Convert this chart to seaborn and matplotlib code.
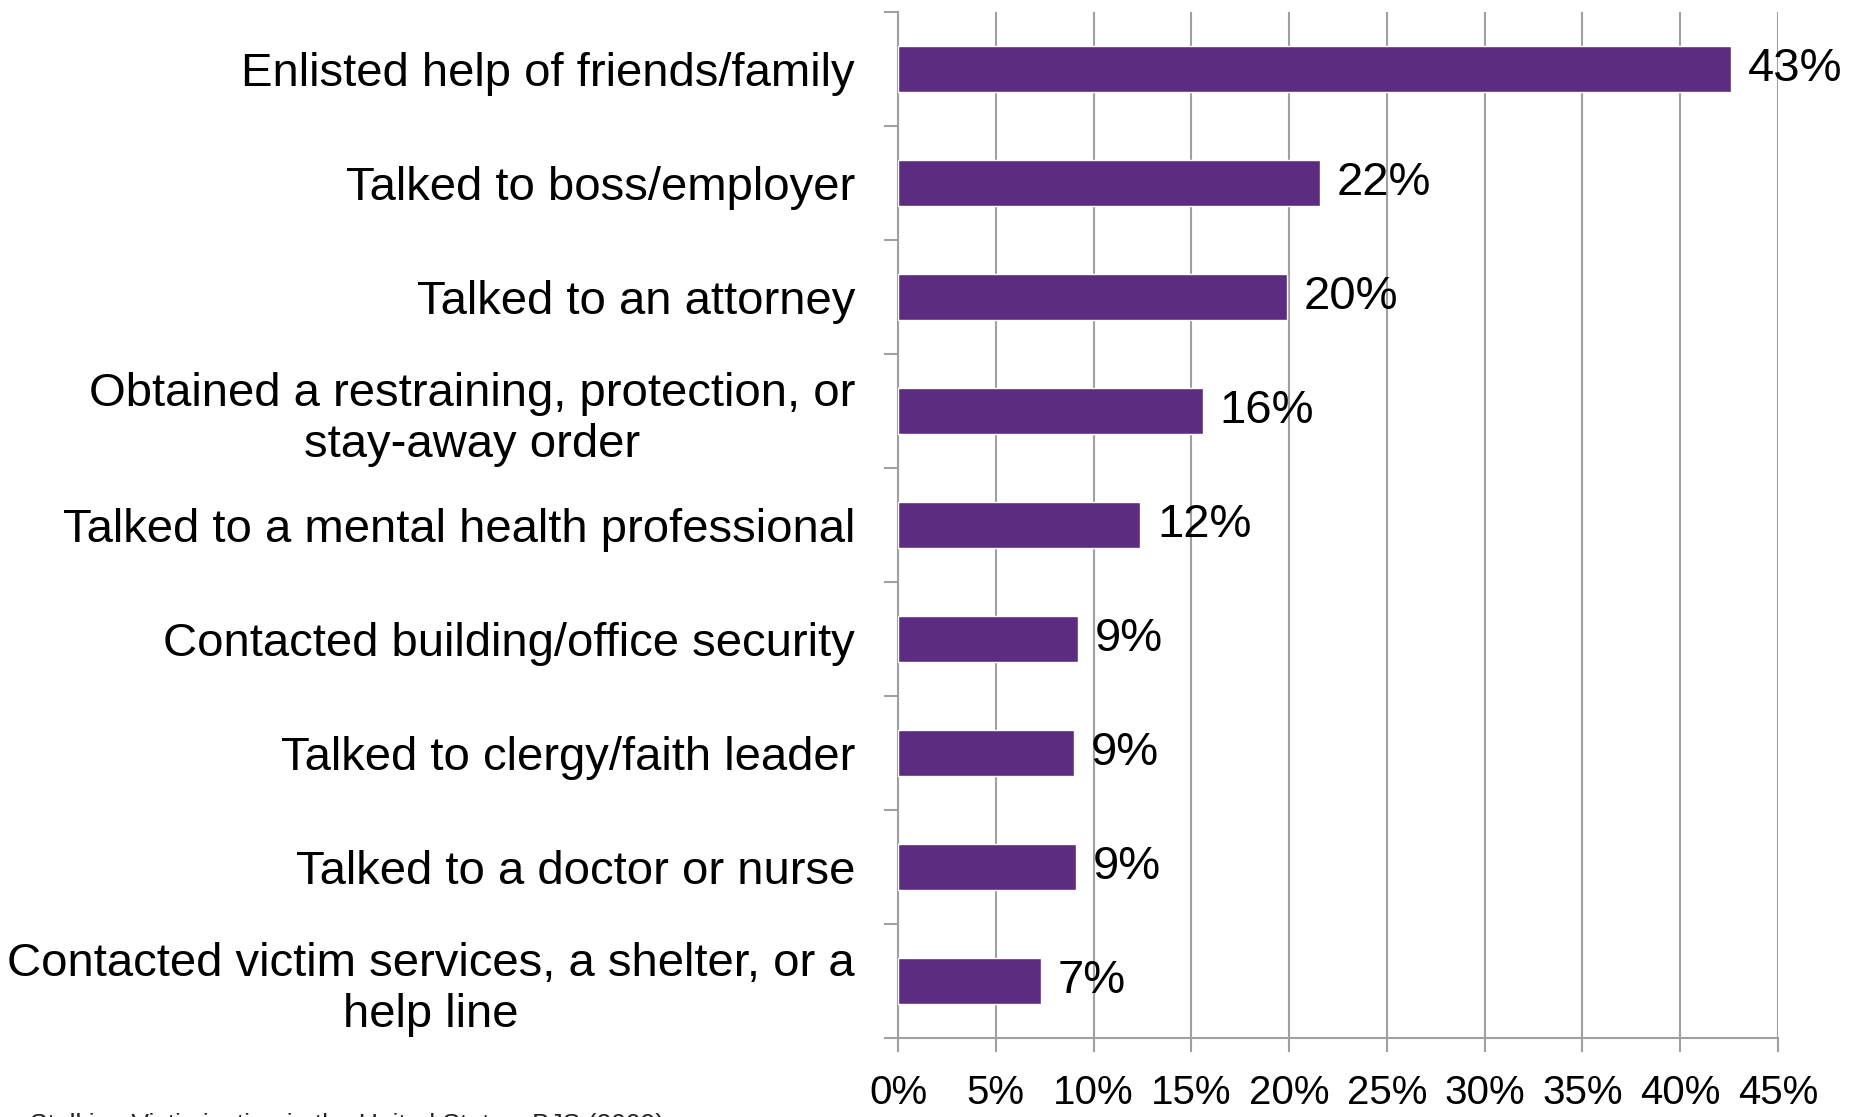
import matplotlib
matplotlib.use("Agg")
import matplotlib.pyplot as plt
import seaborn as sns
import pandas as pd
import numpy as np
from matplotlib.ticker import FixedLocator

categories = [
    "Enlisted help of friends/family",
    "Talked to boss/employer",
    "Talked to an attorney",
    "Obtained a restraining, protection, or\nstay-away order",
    "Talked to a mental health professional",
    "Contacted building/office security",
    "Talked to clergy/faith leader",
    "Talked to a doctor or nurse",
    "Contacted victim services, a shelter, or a\nhelp line",
]
values = [42.6, 21.6, 19.9, 15.6, 12.4, 9.2, 9.0, 9.1, 7.3]
value_labels = ["43%", "22%", "20%", "16%", "12%", "9%", "9%", "9%", "7%"]
x_ticks = [0, 5, 10, 15, 20, 25, 30, 35, 40, 45]
x_tick_labels = ["0%", "5%", "10%", "15%", "20%", "25%", "30%", "35%", "40%", "45%"]
source = "Stalking Victimization in the United States, BJS (2009)"

sns.set_style("white")
plt.rcParams['font.family'] = ['Liberation Sans', 'DejaVu Sans']
plt.rcParams['text.color'] = 'black'
plt.rcParams['xtick.labelcolor'] = 'black'
plt.rcParams['ytick.labelcolor'] = 'black'

df = pd.DataFrame({"category": categories, "value": values})

fig = plt.figure(figsize=(18.65, 11.17), dpi=100)
L, R, T, B = 898, 1778, 12, 1038
ax = fig.add_axes([L/1865, 1 - B/1117, (R-L)/1865, (B-T)/1117])

grey = "#a0a0a0"
sns.barplot(data=df, x="value", y="category", orient="h", color="#5B2C7F",
            width=0.4, saturation=1, ax=ax, zorder=3)

ax.set_xlim(0, 45)
ax.set_ylim(len(categories) - 0.5, -0.5)
ax.set_xlabel("")
ax.set_ylabel("")

ax.set_xticks(x_ticks)
ax.set_xticklabels(x_tick_labels)
for t in ax.get_xticklabels():
    t.set_fontfamily(['Liberation Sans Narrow', 'Liberation Sans'])
    t.set_fontsize(29)
    t.set_color('black')
ax.tick_params(axis='x', length=10, width=1.5, color=grey, pad=16, direction='out', bottom=True)

ax.yaxis.set_minor_locator(FixedLocator(np.arange(-0.5, len(categories), 1.0)))
ax.tick_params(axis='y', which='major', length=0, pad=31, labelsize=34)
ax.tick_params(axis='y', which='minor', length=10, width=1.5, color=grey, left=True, direction='out')
for t in ax.get_yticklabels():
    t.set_multialignment('center')
    t.set_linespacing(1.2)
    t.set_color('black')

ax.xaxis.grid(True, color=grey, linewidth=1.5, zorder=0)
ax.set_axisbelow(True)
for s in ["top", "right"]:
    ax.spines[s].set_visible(False)
for s in ["left", "bottom"]:
    ax.spines[s].set_color(grey)
    ax.spines[s].set_linewidth(1.5)

ax.bar_label(ax.containers[0], labels=value_labels, padding=12, fontsize=34, color="black")

fig.text(30/1865, 1 - 1113/1117, source, fontsize=19, va='top', ha='left', color='#222222')

fig.savefig("out.png", dpi=100)
